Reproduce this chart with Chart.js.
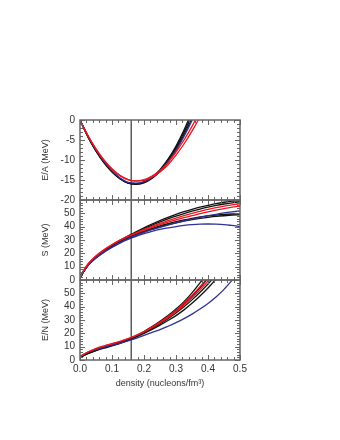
<!DOCTYPE html>
<html>
<head>
<meta charset="utf-8">
<script src="https://cdn.jsdelivr.net/npm/chart.js@4.4.1/dist/chart.umd.min.js"></script>
<style>
  body { margin: 0; background: #fff; }
  #wrap { position: relative; width: 340px; height: 440px; background: #fff; }
  #wrap canvas { position: absolute; left: 0; top: 0; }
</style>
</head>
<body>
<div id="wrap">
  <canvas id="chartEA" width="340" height="440"></canvas>
  <canvas id="chartS" width="340" height="440"></canvas>
  <canvas id="chartEN" width="340" height="440"></canvas>
</div>
<script>
// density grid (nucleons/fm3)
var density = [0, 0.025, 0.05, 0.075, 0.1, 0.125, 0.15, 0.175, 0.2, 0.225, 0.25,
               0.275, 0.3, 0.325, 0.35, 0.375, 0.4, 0.425, 0.45, 0.475, 0.5]
var satDensity = 0.16

// E/A, symmetric matter
var eaBlackA = [0, -4.3, -7.8, -10.7, -13.0, -14.7, -15.8, -16.0, -15.5, -14.3, -12.4, -9.8, -6.5, -2.5, 2.2, 7.5, 13.3]
var eaBlackB = [0, -4.2, -7.7, -10.6, -12.9, -14.6, -15.7, -15.9, -15.5, -14.4, -12.6, -10.1, -6.9, -3.1, 1.3, 6.2, 11.6]
var eaBlackC = [0, -4.1, -7.6, -10.5, -12.9, -14.7, -15.8, -16.1, -15.7, -14.6, -12.9, -10.5, -7.4, -3.7, 0.5, 5.2, 10.4]
var eaBlue   = [0, -4.0, -7.5, -10.4, -12.7, -14.5, -15.6, -15.8, -15.4, -14.4, -12.8, -10.5, -7.6, -4.1, -0.1, 4.4, 9.4]
var eaRedA   = [0, -4.0, -7.3, -10.1, -12.3, -13.9, -14.9, -15.2, -14.9, -14.0, -12.6, -10.6, -8.0, -5.0, -1.6, 2.3, 6.6]
var eaRedB   = [0, -3.9, -7.2, -10.0, -12.2, -13.9, -14.9, -15.3, -15.1, -14.3, -13.0, -11.2, -8.8, -6.0, -2.8, 0.8, 4.8]

// S, symmetry energy
var sBlackA = [2, 11, 17, 21.8, 26, 29.8, 33, 36.2, 39.2, 42, 44.6, 47, 49.2, 51.2, 53, 54.6, 56, 57.3, 58.3, 59.1, 59.6]
var sBlackB = [2, 11, 17, 21.6, 25.8, 29.5, 32.7, 35.7, 38.5, 41.1, 43.5, 45.8, 47.9, 49.8, 51.6, 53.2, 54.6, 55.9, 57, 57.9, 58.7]
var sRedA   = [2.5, 12, 18, 22.6, 26.5, 29.9, 32.8, 35.4, 37.9, 40.2, 42.4, 44.5, 46.4, 48.2, 49.9, 51.5, 52.9, 54.2, 55.4, 56.4, 57.3]
var sRedB   = [2.5, 12, 18, 22.6, 26.4, 29.7, 32.5, 35, 37.3, 39.5, 41.5, 43.4, 45.1, 46.7, 48.2, 49.7, 51.1, 52.4, 53.5, 54.6, 55.5]
var sBlackC = [2, 11, 17, 21.5, 25.4, 28.8, 31.8, 34.3, 36.6, 38.7, 40.6, 42.3, 43.8, 45.1, 46.3, 47.3, 48.1, 48.7, 49.2, 49.5, 49.7]
var sBlackD = [2, 11, 16.8, 21.3, 25.1, 28.5, 31.4, 33.9, 36.1, 38.1, 39.9, 41.5, 42.9, 44.2, 45.3, 46.2, 47, 47.7, 48.2, 48.6, 48.9]
var sBlueA  = [3, 11, 16.5, 20.9, 24.7, 28.1, 31, 33.5, 35.7, 37.7, 39.5, 41.2, 42.8, 44.3, 45.7, 47, 48.2, 49.3, 50.3, 51.1, 51.8]
var sBlueB  = [3, 11, 16.5, 20.9, 24.5, 27.7, 30.4, 32.7, 34.7, 36.4, 37.9, 39.1, 40.1, 40.9, 41.5, 41.9, 42, 41.9, 41.6, 40.9, 40.1]

// E/N, neutron matter
var enBlackA = [2, 5.5, 7.8, 9.7, 11.3, 13.2, 15.5, 18.2, 21.4, 25, 29, 33.3, 38.2, 43.8, 50.4, 57.8, 66, 75, 85, 96, 107]
var enBlackB = [2, 5.3, 7.6, 9.5, 11.1, 13, 15.3, 17.9, 21, 24.5, 28.3, 32.4, 36.9, 42, 47.8, 54.2, 61.2, 69, 77, 86, 95]
var enBlackC = [2, 5, 7.3, 9.2, 10.9, 12.8, 15, 17.6, 20.5, 23.7, 27.2, 31, 35.2, 39.9, 45.1, 50.8, 57, 63.8, 71, 79, 87]
var enBlackD = [2, 4.8, 7, 8.9, 10.6, 12.5, 14.7, 17.2, 20, 23, 26.2, 29.6, 33.3, 37.6, 42.5, 48, 54, 60.6, 67.5, 75, 83]
var enRedA   = [2.5, 6, 8.6, 10.5, 12.2, 14, 16, 18.5, 21.4, 24.7, 28.4, 32.6, 37.3, 42.6, 48.5, 55, 62, 69.5, 77.5, 86, 95]
var enRedB   = [2.5, 6, 8.6, 10.5, 12.1, 13.8, 15.8, 18.2, 21, 24.2, 27.8, 31.8, 36.2, 41.1, 46.6, 52.6, 59.2, 66.4, 74, 82, 91]
var enBlue   = [3, 5.8, 7.8, 9.5, 11, 12.5, 14.3, 16.3, 18.5, 20.8, 22.8, 25.3, 28, 31, 34.4, 38.2, 42.4, 47.3, 53, 59.8, 67]

var BLACK = '#111111'
var RED = '#e8161e'
var BLUE = '#2e3192'

function pts(vals) {
    return vals.map(function (v, i) { return { x: density[i], y: v } })
}

function line(vals, color) {
    return {
        data: pts(vals),
        borderColor: color,
        borderWidth: 1.3,
        pointRadius: 0,
        fill: false,
        cubicInterpolationMode: 'monotone'
    }
}

// vertical line at saturation density, spanning the y range
function satLine(yMin, yMax) {
    return {
        data: [{ x: satDensity, y: yMin }, { x: satDensity, y: yMax }],
        borderColor: '#333333',
        borderWidth: 1.2,
        pointRadius: 0,
        fill: false
    }
}

// frame + inward minor/major ticks on all four sides
var frameTicks = {
    id: 'frameTicks',
    afterDatasetsDraw: function (chart, args, opts) {
        var ctx = chart.ctx
        var a = chart.chartArea
        var xs = chart.scales.x
        var ys = chart.scales.y
        ctx.save()
        ctx.strokeStyle = '#666666'
        ctx.lineWidth = 1
        var i, v, p, len
        var nx = Math.round((xs.max - xs.min) / opts.xMinor)
        for (i = 0; i <= nx; i++) {
            v = xs.min + i * opts.xMinor
            p = Math.round(xs.getPixelForValue(v)) + 0.5
            len = (i % opts.xMajorEvery === 0) ? 5 : 3
            ctx.beginPath()
            ctx.moveTo(p, a.top); ctx.lineTo(p, a.top + len)
            ctx.moveTo(p, a.bottom); ctx.lineTo(p, a.bottom - len)
            ctx.stroke()
        }
        var ny = Math.round((ys.max - ys.min) / opts.yMinor)
        for (i = 0; i <= ny; i++) {
            v = ys.min + i * opts.yMinor
            p = Math.round(ys.getPixelForValue(v)) + 0.5
            len = (i % opts.yMajorEvery === 0) ? 5 : 3
            ctx.beginPath()
            ctx.moveTo(a.left, p); ctx.lineTo(a.left + len, p)
            ctx.moveTo(a.right, p); ctx.lineTo(a.right - len, p)
            ctx.stroke()
        }
        ctx.lineWidth = 1.5
        ctx.strokeRect(a.left, a.top, a.right - a.left, a.bottom - a.top)
        ctx.restore()
    }
}

var tickFont = { family: 'Liberation Sans', size: 10 }
var titleFont = { family: 'Liberation Sans', size: 9 }

function makePanel(canvasId, datasets, yCfg, padTop, padBottom, showX) {
    var xScale = {
        type: 'linear',
        min: 0,
        max: 0.5,
        display: showX,
        grid: { display: false, drawTicks: false },
        border: { display: false },
        ticks: {
            stepSize: 0.1,
            padding: 3,
            autoSkip: false,
            color: '#333333',
            font: tickFont,
            callback: function (v) { return v.toFixed(1) }
        },
        title: {
            display: true,
            text: 'density (nucleons/fm³)',
            color: '#333333',
            font: titleFont
        },
        afterFit: function (s) { s.height = showX ? 33 : 0 }
    }
    return new Chart(document.getElementById(canvasId), {
        type: 'line',
        data: { datasets: datasets },
        options: {
            responsive: false,
            animation: false,
            devicePixelRatio: 1,
            layout: { padding: { left: 36, right: 100, top: padTop, bottom: padBottom } },
            plugins: {
                legend: { display: false },
                tooltip: { enabled: false },
                frameTicks: { xMinor: 0.02, xMajorEvery: 5, yMinor: yCfg.minor, yMajorEvery: yCfg.majorEvery }
            },
            scales: {
                x: xScale,
                y: {
                    min: yCfg.min,
                    max: yCfg.max,
                    grid: { display: false, drawTicks: false },
                    border: { display: false },
                    ticks: {
                        stepSize: yCfg.step,
                        padding: 5,
                        autoSkip: false,
                        color: '#333333',
                        font: tickFont,
                        callback: function (v) { return v === yCfg.hide ? '' : String(v) }
                    },
                    title: {
                        display: true,
                        text: yCfg.title,
                        color: '#333333',
                        font: titleFont
                    },
                    afterFit: function (s) { s.width = 44 }
                }
            }
        },
        plugins: [frameTicks]
    })
}

// E/A panel
makePanel('chartEA', [
    line(eaRedA, RED), line(eaRedB, RED), line(eaBlue, BLUE),
    line(eaBlackA, BLACK), line(eaBlackB, BLACK), line(eaBlackC, BLACK),
    satLine(-20, 0)
], { min: -20, max: 0, step: 5, minor: 1, majorEvery: 5, hide: null, title: 'E/A (MeV)' }, 120, 240, false)

// S panel
makePanel('chartS', [
    line(sRedA, RED), line(sRedB, RED), line(sBlueA, BLUE), line(sBlueB, BLUE),
    line(sBlackA, BLACK), line(sBlackB, BLACK), line(sBlackC, BLACK), line(sBlackD, BLACK),
    satLine(0, 60)
], { min: 0, max: 60, step: 10, minor: 2, majorEvery: 5, hide: 60, title: 'S (MeV)' }, 200, 160, false)

// E/N panel
makePanel('chartEN', [
    line(enRedA, RED), line(enRedB, RED), line(enBlue, BLUE),
    line(enBlackA, BLACK), line(enBlackB, BLACK), line(enBlackC, BLACK), line(enBlackD, BLACK),
    satLine(0, 60)
], { min: 0, max: 60, step: 10, minor: 2, majorEvery: 5, hide: 60, title: 'E/N (MeV)' }, 280, 47, true)
</script>
</body>
</html>
